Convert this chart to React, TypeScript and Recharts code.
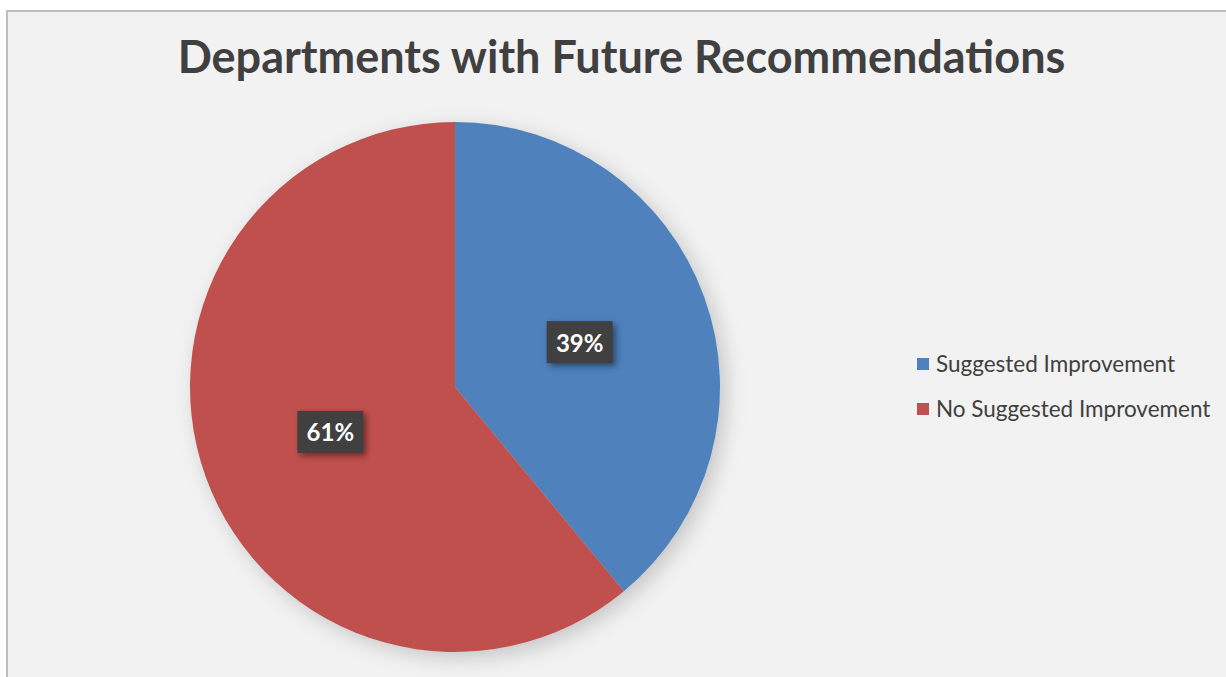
import React from "react";
import { PieChart, Pie, Cell, Legend } from "recharts";

const categories = ["Suggested Improvement", "No Suggested Improvement"];
const shares = [39, 61];
const colors = ["#4f81bd", "#c0504d"];

const data = categories.map((name, i) => ({ name, value: shares[i] }));

const RADIAN = Math.PI / 180;

// dark label box placed halfway along each slice
// eslint-disable-next-line @typescript-eslint/no-explicit-any
const renderLabel = (props: any) => {
  const { cx, cy, midAngle, outerRadius, percent } = props;
  const r = outerRadius * 0.5;
  const x = cx + r * Math.cos(-midAngle * RADIAN);
  const y = cy + r * Math.sin(-midAngle * RADIAN);
  const w = 66;
  const h = 42;
  return (
    <g>
      <rect
        x={x - w / 2}
        y={y - h / 2}
        width={w}
        height={h}
        fill="#404040"
        style={{ filter: "drop-shadow(3px 3px 3px rgba(0,0,0,0.45))" }}
      />
      <text
        x={x}
        y={y}
        fill="#ffffff"
        textAnchor="middle"
        dominantBaseline="central"
        fontFamily="Lato, sans-serif"
        fontWeight="bold"
        fontSize={24}
      >
        {`${Math.round(percent * 100)}%`}
      </text>
    </g>
  );
};

const renderLegend = () => (
  <div style={{ fontFamily: "Lato, sans-serif", fontSize: 22.5, color: "#404040" }}>
    {categories.map((name, i) => (
      <div key={name} style={{ display: "flex", alignItems: "center", height: 45 }}>
        <span
          style={{
            display: "inline-block",
            width: 12,
            height: 12,
            background: colors[i],
            marginRight: 7,
          }}
        />
        {name}
      </div>
    ))}
  </div>
);

export default function App() {
  return (
    <div style={{ position: "absolute", left: 0, top: 0, width: 1226, height: 677, overflow: "hidden", background: "#fff" }}>
      <style>{`.recharts-pie { filter: drop-shadow(6px 6px 10px rgba(0,0,0,0.18)); }`}</style>
      <div
        style={{
          position: "absolute",
          left: 6,
          top: 10,
          width: 1240,
          height: 690,
          background: "#f2f2f2",
          borderLeft: "2px solid #bfbfbf",
          borderTop: "2px solid #bfbfbf",
        }}
      />
      <div
        style={{
          position: "absolute",
          left: 0,
          top: 29,
          width: 1243,
          textAlign: "center",
          fontFamily: "Lato, sans-serif",
          fontWeight: "bold",
          fontSize: 45,
          color: "#404040",
        }}
      >
        Departments with Future Recommendations
      </div>
      <div style={{ position: "absolute", left: 0, top: 0 }}>
        <PieChart width={1226} height={677} margin={{ top: 0, right: 0, bottom: 0, left: 0 }}>
          <Pie
            data={data}
            dataKey="value"
            nameKey="name"
            cx={455}
            cy={387}
            outerRadius={265}
            startAngle={90}
            endAngle={-270}
            stroke="none"
            label={renderLabel}
            labelLine={false}
            isAnimationActive={false}
          >
            {data.map((d, i) => (
              <Cell key={d.name} fill={colors[i]} />
            ))}
          </Pie>
          <Legend
            content={renderLegend}
            wrapperStyle={{ position: "absolute", left: 917, top: 341, width: 305 }}
          />
        </PieChart>
      </div>
    </div>
  );
}
